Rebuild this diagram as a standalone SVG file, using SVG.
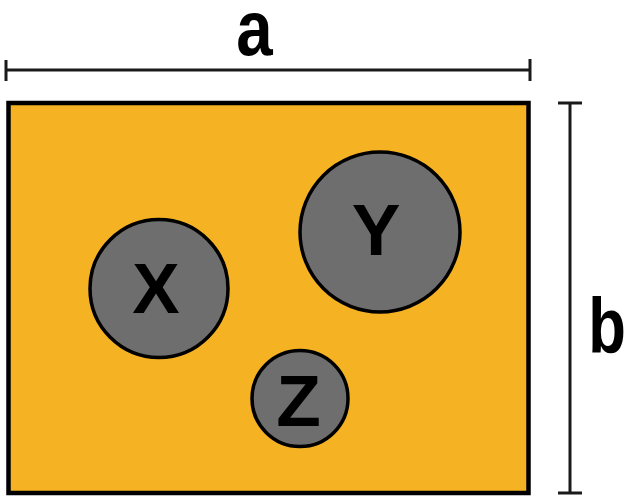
<svg xmlns="http://www.w3.org/2000/svg" width="625" height="498" viewBox="0 0 625 498">
<style>
.dim{stroke:#1a1a1a;stroke-width:3;fill:none}
.node circle{fill:#6e6e6e;stroke:#000;stroke-width:3.5}
.lbl{font-family:"Liberation Sans",Arial,sans-serif;font-weight:bold;fill:#000;text-anchor:middle}
</style>
<rect id="plot" x="8.5" y="103" width="520" height="390" fill="#f5b223" stroke="#000" stroke-width="4.5"/>
<g id="dimensions">
<path class="dim" d="M6 70H530M6 60V81M530 59V81"/>
<path class="dim" d="M570 103V493M558 103H582M558 493H582"/>
<text class="lbl" font-size="77" transform="translate(254.5,55) scale(0.85,1)">a</text>
<text class="lbl" font-size="77" transform="translate(607,353) scale(0.8,1)">b</text>
</g>
<g id="X" class="node"><circle cx="159" cy="288.5" r="69"/><text class="lbl" x="156" y="313" font-size="71">X</text></g>
<g id="Y" class="node"><circle cx="380" cy="232" r="80"/><text class="lbl" x="376" y="255" font-size="73">Y</text></g>
<g id="Z" class="node"><circle cx="300" cy="398.5" r="48"/><text class="lbl" x="298.5" y="426" font-size="73">Z</text></g>
</svg>
